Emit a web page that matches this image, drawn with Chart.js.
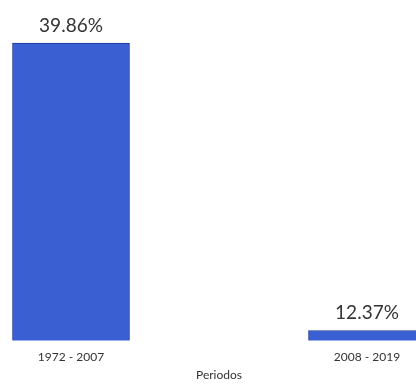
<!DOCTYPE html>
<html>
<head>
    <title>Periodos</title>
    <script src="https://cdn.jsdelivr.net/npm/chart.js"></script>
    <style>
        html, body { margin: 0; padding: 0; background: #fff; overflow: hidden; }
        #wrap { width: 416px; height: 386px; }
    </style>
</head>
<body>
    <div id="wrap"><canvas id="myChart"></canvas></div>

    <script>
        const periods = ['1972 - 2007', '2008 - 2019'];
        const shares = [39.86, 12.37];
        const axisFloor = 11.4;  // value axis does not start at zero in the original

        // draws the value above each bar
        const valueLabels = {
            id: 'valueLabels',
            afterDatasetsDraw(chart) {
                const c = chart.ctx;
                const meta = chart.getDatasetMeta(0);
                c.save();
                c.font = '19px Lato';
                c.fillStyle = '#333';
                c.textAlign = 'center';
                c.textBaseline = 'alphabetic';
                meta.data.forEach((bar, i) => {
                    c.fillText(shares[i].toFixed(2) + '%', bar.x, bar.y - 11);
                });
                c.restore();
            }
        };

        const ctx = document.getElementById('myChart').getContext('2d');
        const myChart = new Chart(ctx, {
            type: 'bar',
            data: {
                labels: periods,
                datasets: [{
                    data: shares,
                    base: axisFloor,
                    backgroundColor: '#3a5fd3',
                    borderColor: '#1d3a9a',
                    borderWidth: 1,
                    barThickness: 117,
                    clip: false
                }]
            },
            options: {
                responsive: true,
                maintainAspectRatio: false,
                animation: false,
                layout: { padding: { left: 71, right: 49, top: 43, bottom: 4 } },
                plugins: { legend: { display: false }, tooltip: { enabled: false } },
                scales: {
                    x: {
                        offset: false,
                        grid: { display: false },
                        border: { display: false },
                        ticks: { font: { family: 'Lato', size: 12, lineHeight: 1 }, color: '#333', padding: 3 },
                        title: { display: true, text: 'Periodos', font: { family: 'Lato', size: 12 }, color: '#333', padding: { top: 1, bottom: 0 } }
                    },
                    y: {
                        display: false,
                        min: axisFloor,
                        max: 39.86
                    }
                }
            },
            plugins: [valueLabels]
        });
    </script>
</body>
</html>
